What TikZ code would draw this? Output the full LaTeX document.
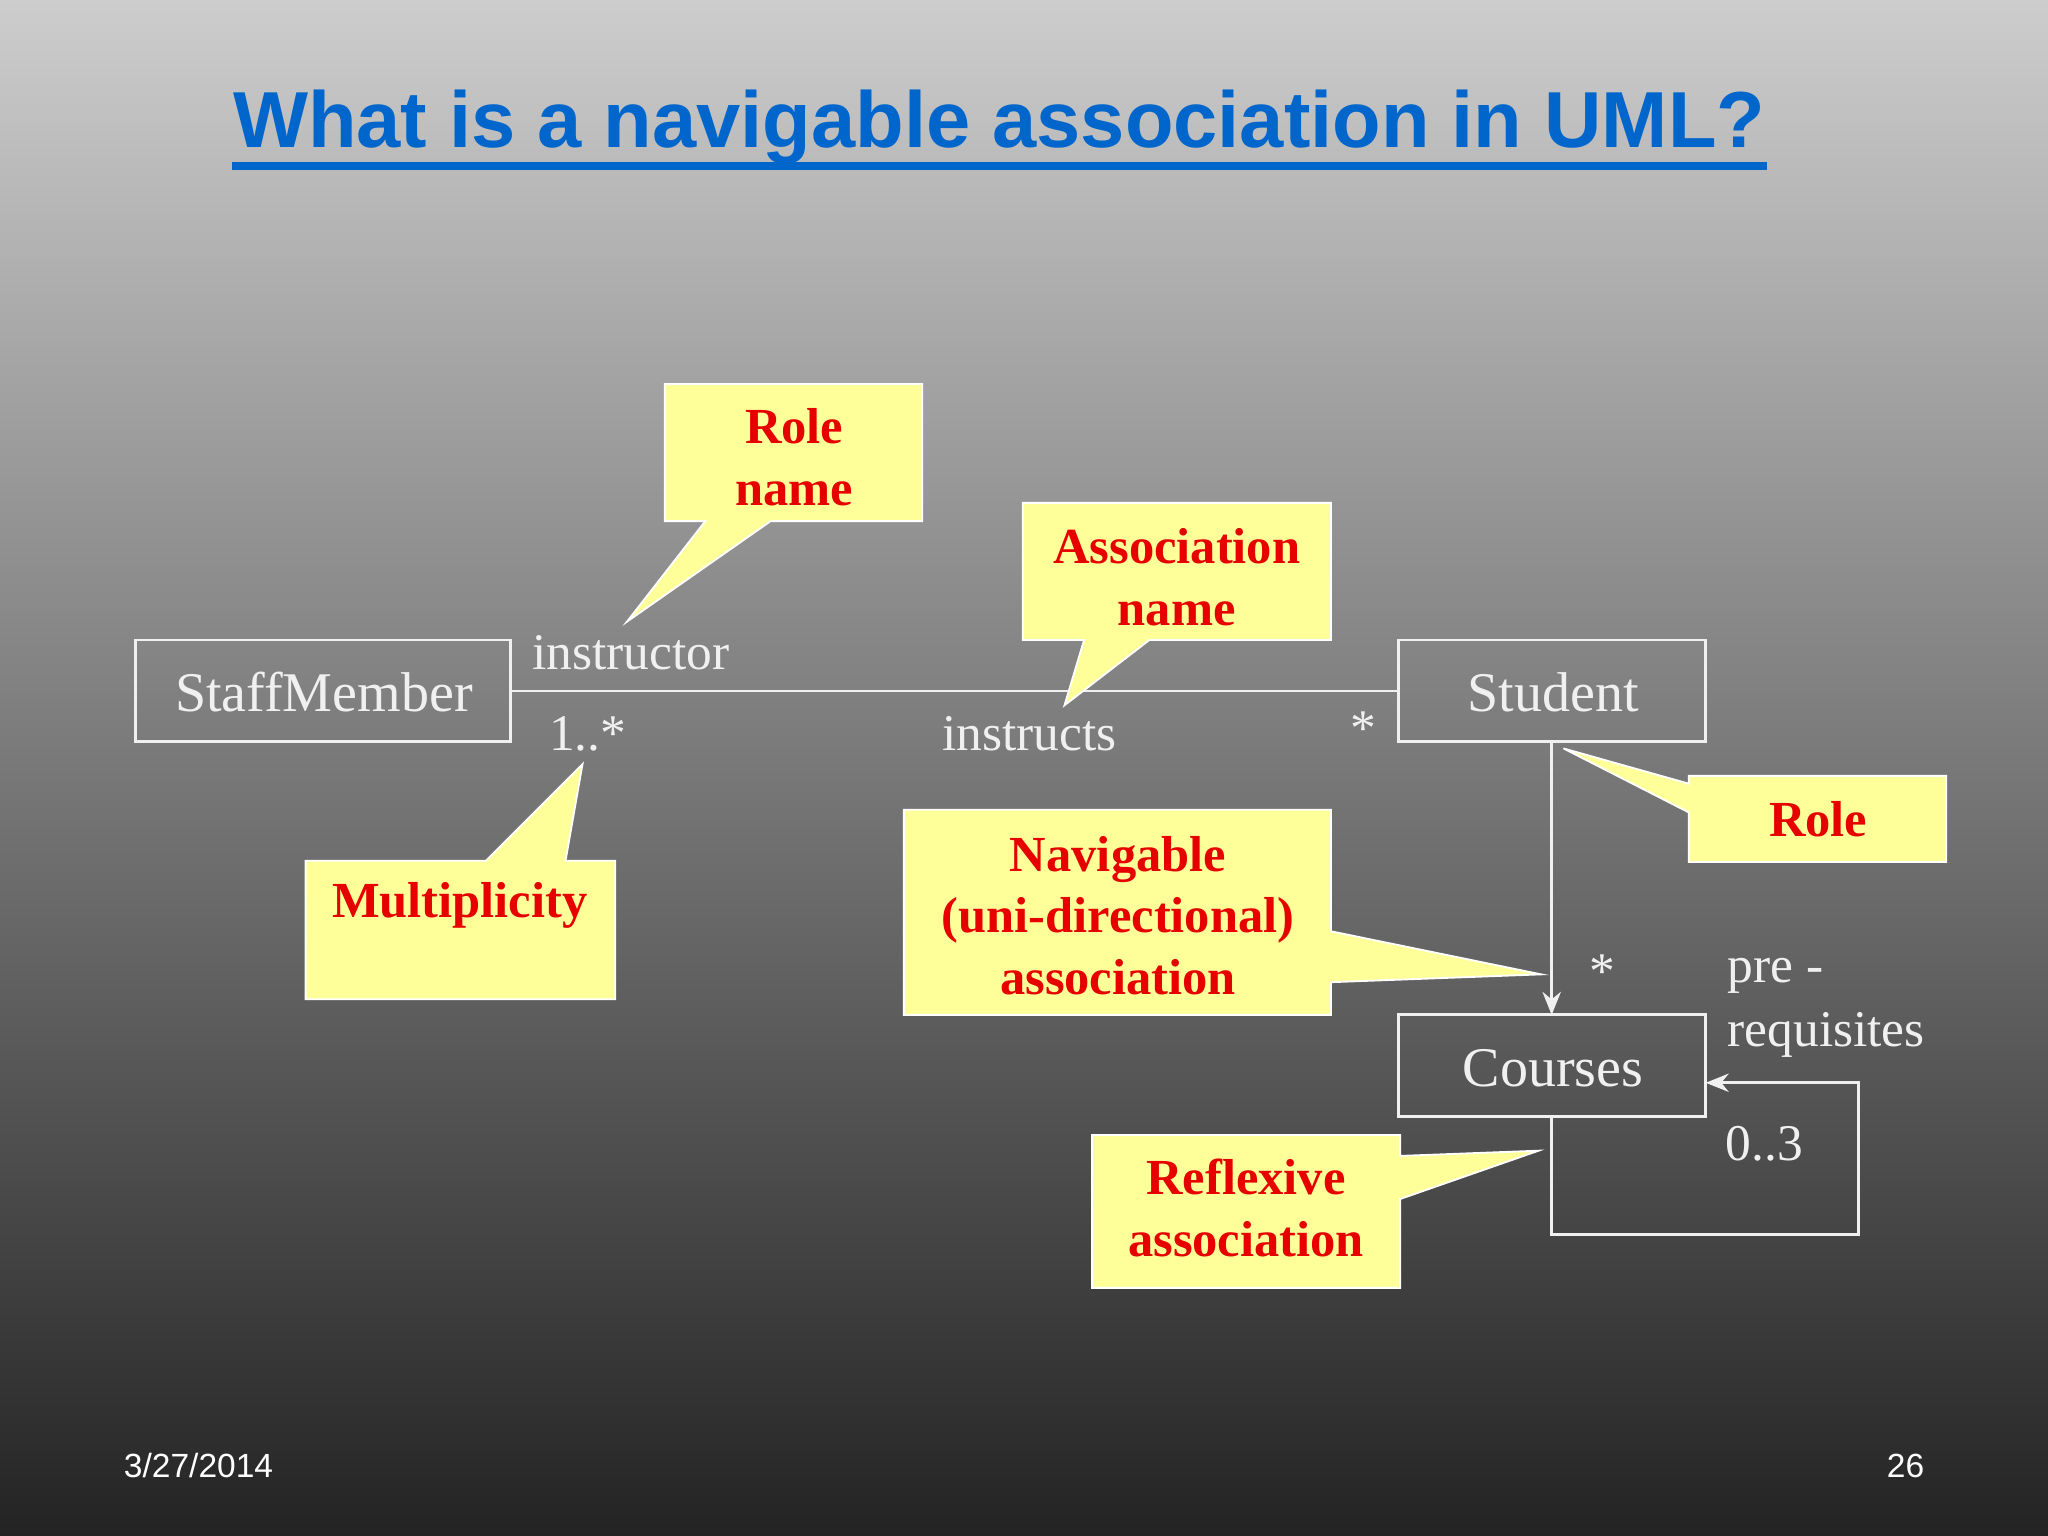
\documentclass[tikz,border=0pt]{standalone}
\usepackage{fontspec}
\usetikzlibrary{arrows.meta}
\setmainfont{Liberation Serif}
\newfontfamily\arialf{Liberation Sans}
\definecolor{callyel}{RGB}{255,255,153}
\definecolor{callred}{RGB}{230,0,0}
\definecolor{titleblue}{RGB}{0,102,204}
\definecolor{umlw}{RGB}{240,240,240}
\begin{document}
\begin{tikzpicture}[x=0.01cm,y=-0.01cm,
  lbl/.style={font=\fontsize{11.2}{13}\selectfont,text=umlw,inner sep=0pt},
  ctext/.style={font=\bfseries\fontsize{11}{13.4}\selectfont,text=callred,align=center,inner sep=0pt},
  callout/.style={fill=callyel,draw=white,line width=0.4pt},
  conn/.style={draw=umlw,line width=0.6pt},
  arr/.style={conn,-{Stealth[length=5pt,width=4pt]}}]
\useasboundingbox (0,0) rectangle (1568,1176);
\shade[top color={rgb,255:red,205;green,205;blue,205},bottom color={rgb,255:red,35;green,35;blue,35}] (0,0) rectangle (1568,1176);
% title
\node[font=\arialf\bfseries\fontsize{17.3}{20}\selectfont,text=titleblue,inner sep=0pt] (title) at (765,97) {What is a navigable association in UML?};
\draw[titleblue,line width=1.6pt] (178,127) -- (1353,127);
% classes
\draw[umlw,line width=0.6pt] (104,490) rectangle (391,568);
\node[lbl,font=\fontsize{12.2}{14}\selectfont] (staff) at (248,530) {StaffMember};
\draw[umlw,line width=0.6pt] (1071,490) rectangle (1306,568);
\node[lbl,font=\fontsize{12.2}{14}\selectfont] (student) at (1189,530) {Student};
\draw[umlw,line width=0.6pt] (1071,777) rectangle (1306,855);
\node[lbl,font=\fontsize{12.2}{14}\selectfont] (courses) at (1189,818) {Courses};
\coordinate (sR) at (391,529); \coordinate (stL) at (1071,529);
\coordinate (stB) at (1188,568); \coordinate (cT) at (1188,777);
\coordinate (cB) at (1188,855); \coordinate (cR) at (1306,829);
\draw[conn] (sR) -- (stL);
\draw[arr] (stB) -- (cT);
\draw[arr] (cB) -- (1188,945) -- (1423,945) -- (1423,829) -- (cR);
% labels
\node[lbl] (instr) at (483,500) {instructor};
\node[lbl] (m1) at (450,562) {1..*};
\node[lbl] (instructs) at (788,562) {instructs};
\node[lbl] (m2) at (1044,558) {*};
\node[lbl] (m3) at (1227,744) {*};
\node[lbl,anchor=west] (pre1) at (1322,747) {pre -};
\node[lbl,anchor=west] (pre2) at (1322,792) {requisites};
\node[lbl] (m4) at (1351,876) {0..3};
% callouts
\draw[callout] (509,294) -- (706,294) -- (706,399) -- (590,399) -- (480,476) -- (540,399) -- (509,399) -- cycle;
\node[ctext] (rolename) at (608,350) {Role\\name};
\draw[callout] (783,385) -- (1019,385) -- (1019,490) -- (880,490) -- (815,540) -- (830,490) -- (783,490) -- cycle;
\node[ctext] (assocname) at (901,442) {Association\\name};
\draw[callout] (234,659) -- (372,659) -- (446,585) -- (433,659) -- (471,659) -- (471,765) -- (234,765) -- cycle;
\node[ctext] (mult) at (352,693) {Multiplicity};
\draw[callout] (1293,594) -- (1490,594) -- (1490,660) -- (1293,660) -- (1293,622) -- (1197,573) -- (1293,600) -- cycle;
\node[ctext] (role) at (1392,627) {Role};
\draw[callout] (692,620) -- (1019,620) -- (1019,713) -- (1180,746) -- (1019,752) -- (1019,777) -- (692,777) -- cycle;
\node[ctext] (nav) at (856,701) {Navigable\\(uni-directional)\\association};
\draw[callout] (836,869) -- (1072,869) -- (1072,885) -- (1178,881) -- (1072,918) -- (1072,986) -- (836,986) -- cycle;
\node[ctext] (refl) at (954,925) {Reflexive\\association};
% footer
\node[font=\arialf\fontsize{7.3}{9}\selectfont,text=white,inner sep=0pt] (date) at (152,1122) {3/27/2014};
\node[font=\arialf\fontsize{7.3}{9}\selectfont,text=white,inner sep=0pt] (page) at (1459,1122) {26};
\end{tikzpicture}
\end{document}
